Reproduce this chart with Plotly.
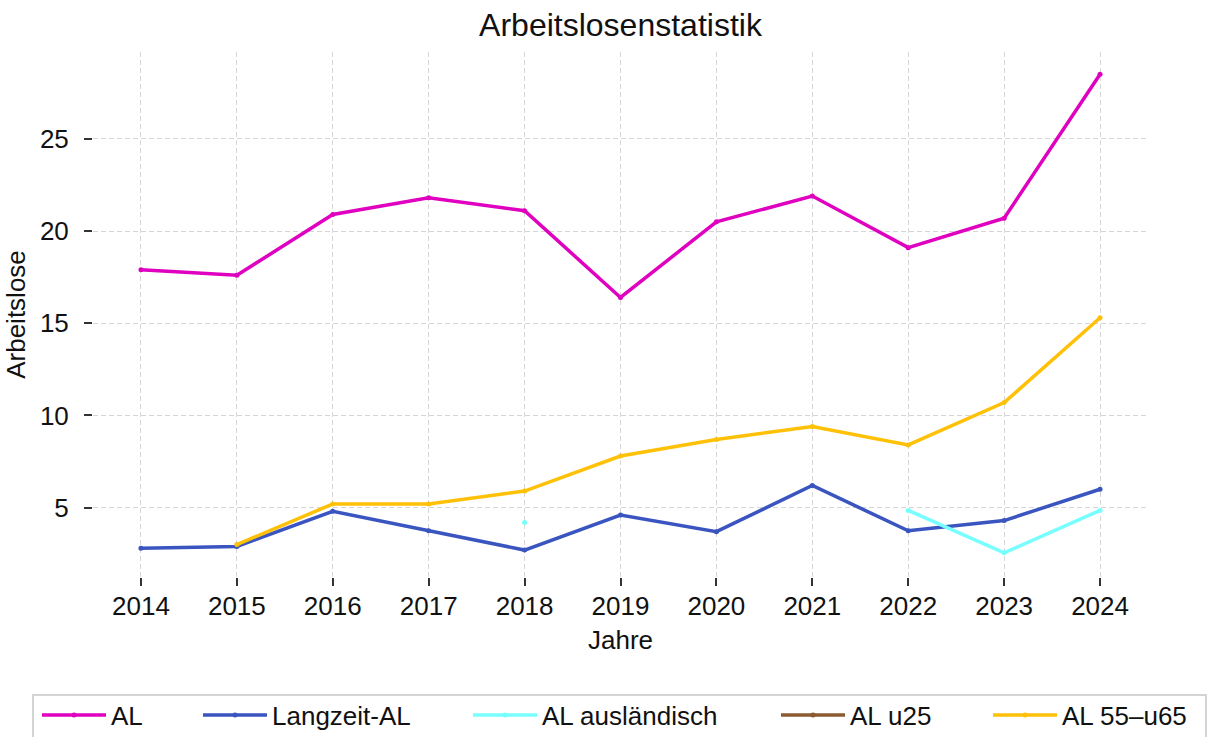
import plotly.graph_objects as go

jahre = [2014, 2015, 2016, 2017, 2018, 2019, 2020, 2021, 2022, 2023, 2024]

al = [17.9, 17.6, 20.9, 21.8, 21.1, 16.4, 20.5, 21.9, 19.1, 20.7, 28.5]
langzeit_al = [2.8, 2.9, 4.8, 3.75, 2.7, 4.6, 3.7, 6.2, 3.75, 4.3, 6.0]
al_auslaendisch = [None, None, None, None, 4.2, None, None, None, 4.85, 2.55, 4.85]
al_u25 = [None] * 11
al_55_u65 = [None, 3.0, 5.2, 5.2, 5.9, 7.8, 8.7, 9.4, 8.4, 10.7, 15.3]

serien = [
    ("AL", al, "#e000c0"),
    ("Langzeit-AL", langzeit_al, "#3a55c0"),
    ("AL ausländisch", al_auslaendisch, "#77ffff"),
    ("AL u25", al_u25, "#8b5a30"),
    ("AL 55–u65", al_55_u65, "#ffc107"),
]

# plot area in pixels
W, H = 1208, 737
M_L, M_R, M_T, M_B = 93, 60, 52, 160
PW, PH = W - M_L - M_R, H - M_T - M_B


def px_x(px):
    return (px - M_L) / PW


def px_y(py):
    return (H - M_B - py) / PH


# left edge of each legend entry in the bottom row (container pixels)
legend_x = [37, 198, 468, 776, 988]
legend_names = ["legend", "legend2", "legend3", "legend4", "legend5"]

fig = go.Figure()
for (name, werte, farbe), lg in zip(serien, legend_names):
    fig.add_trace(go.Scatter(
        x=jahre, y=werte, name=name, mode="lines+markers",
        line=dict(color=farbe, width=3.5),
        marker=dict(color=farbe, size=5),
        connectgaps=False, legend=lg, showlegend=True,
    ))

achse = dict(
    showline=False, zeroline=False,
    showgrid=True, gridcolor="#d6d6d6", gridwidth=1, griddash="5px,3px",
    ticks="outside", ticklen=8, tickcolor="#333", tickwidth=2,
    tickfont=dict(size=26, color="#111"),
)

legenden = {}
for lg, lx in zip(legend_names, legend_x):
    legenden[lg] = dict(
        orientation="h", xref="container", yref="container",
        x=lx / W, xanchor="left",
        y=(H - 715) / H, yanchor="middle",
        bgcolor="rgba(0,0,0,0)", borderwidth=0,
        font=dict(size=26, color="#111"), itemwidth=64,
    )

fig.update_layout(
    width=W, height=H,
    paper_bgcolor="white", plot_bgcolor="white",
    font=dict(family="Liberation Sans, Arial, sans-serif", color="#111"),
    title=dict(text="Arbeitslosenstatistik", x=0.5, xref="paper", xanchor="center",
               y=1 - 25 / H, yanchor="middle", font=dict(size=32, color="#111")),
    margin=dict(l=M_L, r=M_R, t=M_T, b=M_B, autoexpand=False),
    xaxis=dict(achse, range=[2013.5, 2024.5], tickmode="array", tickvals=jahre,
               ticklabelstandoff=-2,
               title=dict(text="Jahre", font=dict(size=26), standoff=10)),
    yaxis=dict(achse, range=[1.24, 29.71], tickvals=[5, 10, 15, 20, 25],
               ticklabelstandoff=10,
               title=dict(text="Arbeitslose", font=dict(size=26), standoff=6)),
    shapes=[dict(
        type="rect", xref="paper", yref="paper",
        x0=px_x(33), x1=px_x(1206), y0=px_y(695), y1=px_y(760),
        line=dict(color="#d4d4d4", width=2), fillcolor="rgba(0,0,0,0)",
        layer="below",
    )],
    **legenden,
)

fig.write_html("out.html")
